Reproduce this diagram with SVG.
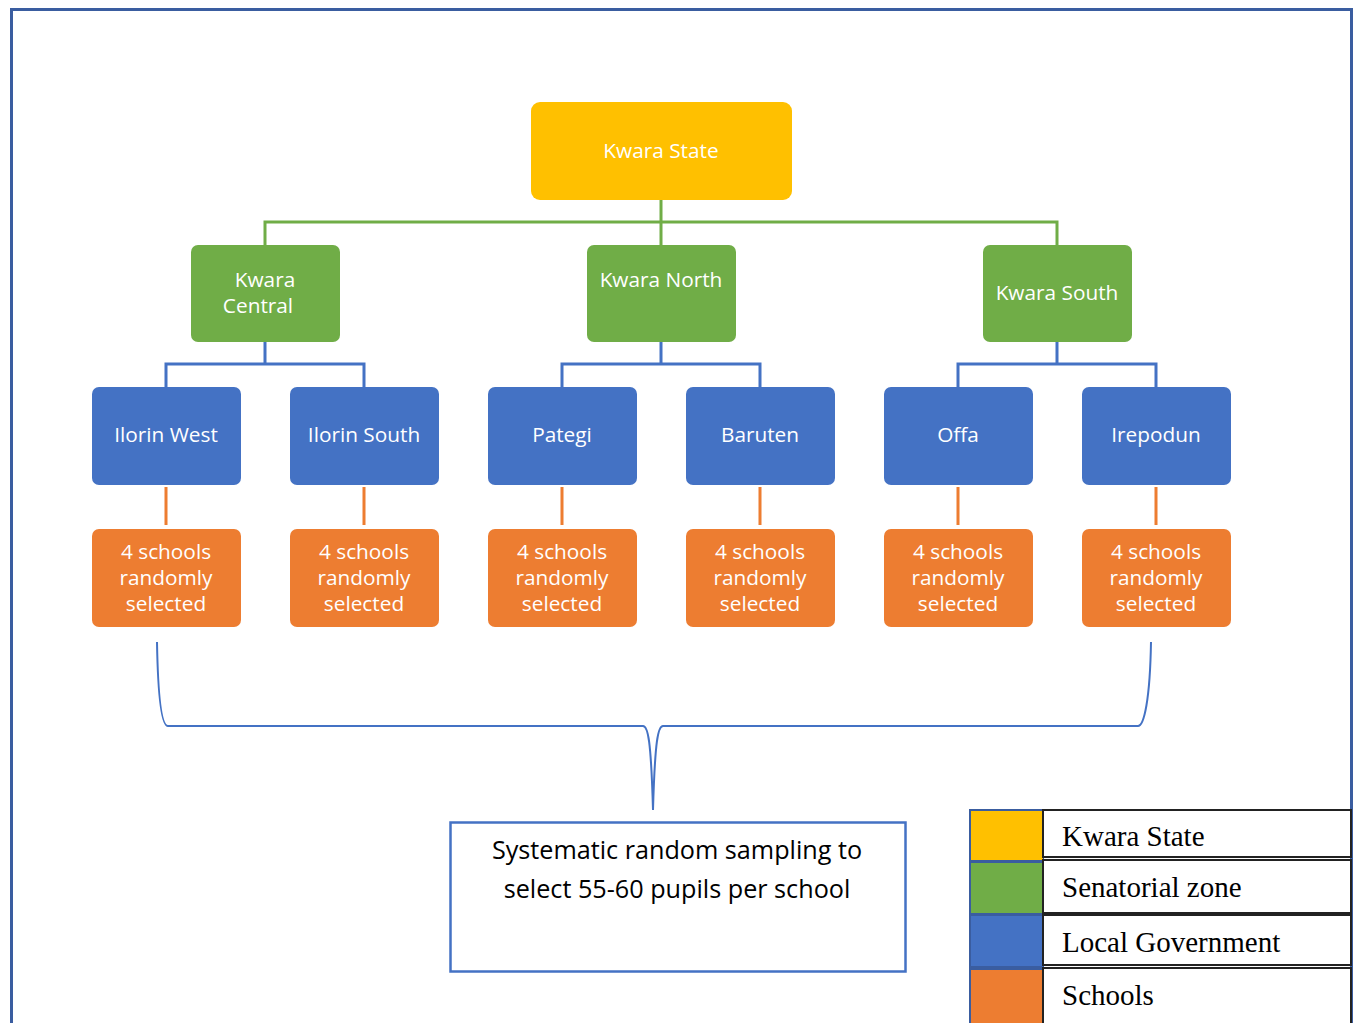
<svg xmlns="http://www.w3.org/2000/svg" width="1356" height="1023" viewBox="0 0 1356 1023">
<style>
.n{font-family:"Open Sans","Liberation Sans",sans-serif;font-size:20.8px;fill:#fff;text-anchor:middle}
.y{fill:#FFC000}.g{fill:#70AD47}.b{fill:#4472C4}.o{fill:#ED7D31}
.cg{stroke:#70AD47;stroke-width:3;fill:none}
.cb{stroke:#4472C4;stroke-width:3;fill:none}
.co{stroke:#ED7D31;stroke-width:3;fill:none}
.lt{font-family:"Liberation Serif","Times New Roman",serif;font-size:29px;fill:#000}
.lb{fill:#fff;stroke:#222;stroke-width:2}
.bt{font-family:"Open Sans","Liberation Sans",sans-serif;font-size:25.2px;fill:#000;text-anchor:middle}
</style>
<rect x="0" y="0" width="1356" height="1023" fill="#fff"/>
<path d="M11.5,1030 V9.5 H1351.5 V1030" fill="none" stroke="#3A5DA0" stroke-width="3"/>
<g id="connectors">
<path class="cg" d="M661,200 V245 M265,245 V222 H1057 V245"/>
<path class="cb" d="M265,342 V364 M166,387 V364 H364 V387"/>
<path class="cb" d="M661,342 V364 M562,387 V364 H760 V387"/>
<path class="cb" d="M1057,342 V364 M958,387 V364 H1156 V387"/>
<path class="co" d="M166,487 V525 M364,487 V525 M562,487 V525 M760,487 V525 M958,487 V525 M1156,487 V525"/>
<path d="M157,642 C158,700 162,726 168,726 H643 C648,726 651,740 653,810 C655,740 658,726 663,726 H1138 C1144,726 1150,700 1151,642" fill="none" stroke="#4472C4" stroke-width="2"/>
</g>
<g id="kwara-state"><rect class="y" x="531" y="102" width="261" height="98" rx="9"/><text class="n" x="661" y="158">Kwara State</text></g>
<g id="kwara-central"><rect class="g" x="191" y="245" width="149" height="97" rx="7"/><text class="n" x="265" y="287">Kwara</text><text class="n" x="258" y="313">Central</text></g>
<g id="kwara-north"><rect class="g" x="587" y="245" width="149" height="97" rx="7"/><text class="n" x="661" y="287">Kwara North</text></g>
<g id="kwara-south"><rect class="g" x="983" y="245" width="149" height="97" rx="7"/><text class="n" x="1057" y="300">Kwara South</text></g>
<g id="ilorin-west"><rect class="b" x="92" y="387" width="149" height="98" rx="7"/><text class="n" x="166" y="442">Ilorin West</text></g>
<g id="ilorin-south"><rect class="b" x="290" y="387" width="149" height="98" rx="7"/><text class="n" x="364" y="442">Ilorin South</text></g>
<g id="pategi"><rect class="b" x="488" y="387" width="149" height="98" rx="7"/><text class="n" x="562" y="442">Pategi</text></g>
<g id="baruten"><rect class="b" x="686" y="387" width="149" height="98" rx="7"/><text class="n" x="760" y="442">Baruten</text></g>
<g id="offa"><rect class="b" x="884" y="387" width="149" height="98" rx="7"/><text class="n" x="958" y="442">Offa</text></g>
<g id="irepodun"><rect class="b" x="1082" y="387" width="149" height="98" rx="7"/><text class="n" x="1156" y="442">Irepodun</text></g>
<g id="schools-1"><rect class="o" x="92" y="529" width="149" height="98" rx="7"/><text class="n" x="166" y="559">4 schools</text><text class="n" x="166" y="585">randomly</text><text class="n" x="166" y="611">selected</text></g>
<g id="schools-2"><rect class="o" x="290" y="529" width="149" height="98" rx="7"/><text class="n" x="364" y="559">4 schools</text><text class="n" x="364" y="585">randomly</text><text class="n" x="364" y="611">selected</text></g>
<g id="schools-3"><rect class="o" x="488" y="529" width="149" height="98" rx="7"/><text class="n" x="562" y="559">4 schools</text><text class="n" x="562" y="585">randomly</text><text class="n" x="562" y="611">selected</text></g>
<g id="schools-4"><rect class="o" x="686" y="529" width="149" height="98" rx="7"/><text class="n" x="760" y="559">4 schools</text><text class="n" x="760" y="585">randomly</text><text class="n" x="760" y="611">selected</text></g>
<g id="schools-5"><rect class="o" x="884" y="529" width="149" height="98" rx="7"/><text class="n" x="958" y="559">4 schools</text><text class="n" x="958" y="585">randomly</text><text class="n" x="958" y="611">selected</text></g>
<g id="schools-6"><rect class="o" x="1082" y="529" width="149" height="98" rx="7"/><text class="n" x="1156" y="559">4 schools</text><text class="n" x="1156" y="585">randomly</text><text class="n" x="1156" y="611">selected</text></g>
<g id="sampling"><rect x="450.5" y="822.5" width="455" height="149" fill="#fff" stroke="#4472C4" stroke-width="2.5"/>
<text class="bt" x="677" y="859">Systematic random sampling to</text>
<text class="bt" x="677" y="898">select 55-60 pupils per school</text></g>
<g id="legend">
<rect x="969" y="809" width="75" height="216" fill="#3A5DA0"/>
<rect class="y" x="971" y="811" width="72" height="49"/>
<rect class="g" x="971" y="863" width="72" height="50"/>
<rect class="b" x="971" y="916" width="72" height="50"/>
<rect class="o" x="971" y="970" width="72" height="55"/>
<rect class="lb" x="1043" y="810" width="308" height="47"/>
<rect class="lb" x="1043" y="860" width="308" height="53"/>
<rect class="lb" x="1043" y="915" width="308" height="50"/>
<rect class="lb" x="1043" y="968" width="308" height="60"/>
<text class="lt" x="1062" y="846">Kwara State</text>
<text class="lt" x="1062" y="897">Senatorial zone</text>
<text class="lt" x="1062" y="952">Local Government</text>
<text class="lt" x="1062" y="1005">Schools</text>
</g>
</svg>
